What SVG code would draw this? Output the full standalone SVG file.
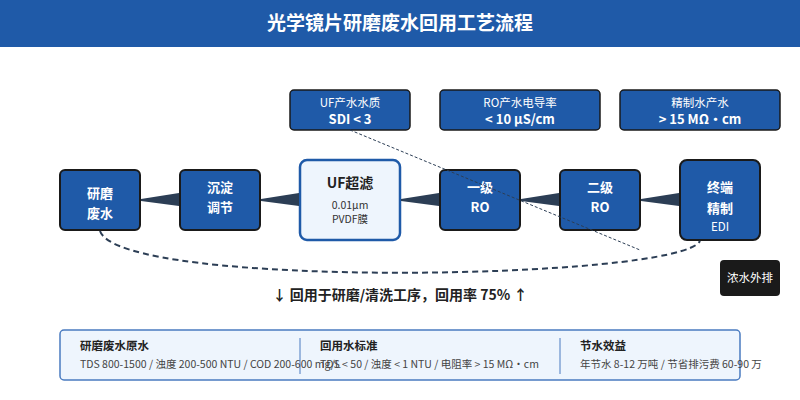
<svg xmlns="http://www.w3.org/2000/svg" width="800" height="400" viewBox="0 0 800 400">
<style>
text{font-family:"Noto Sans CJK SC","Noto Sans",sans-serif}
.n{fill:#1f5aa8;stroke:#1a1a1a;stroke-width:2}
.w{fill:#fff;font-size:13px;font-weight:bold;text-anchor:middle}
.s{fill:#fff;font-size:11.5px;text-anchor:middle}
.i{fill:#1f5aa8;stroke:#1a1a1a;stroke-width:1.5}
.e{fill:#2c3e55}
</style>
<rect x="0" y="0" width="800" height="47" fill="#1f5aa8"/>
<text x="400" y="30" font-size="19" font-weight="bold" fill="#fff" text-anchor="middle">光学镜片研磨废水回用工艺流程</text>
<g id="n1"><rect class="n" x="60" y="170" width="80" height="60" rx="5"/><text class="w" x="100" y="198">研磨</text><text class="w" x="100" y="218">废水</text></g>
<g id="n2"><rect class="n" x="180" y="170" width="80" height="60" rx="5"/><text class="w" x="220" y="192">沉淀</text><text class="w" x="220" y="212">调节</text></g>
<g id="n3"><rect x="300" y="160" width="100" height="80" rx="7" fill="#eef5fd" stroke="#1f5aa8" stroke-width="2.5"/><text x="350" y="188" font-size="14" font-weight="bold" fill="#222" text-anchor="middle">UF超滤</text><text x="350" y="209" font-size="10.5" fill="#333" text-anchor="middle">0.01μm</text><text x="350" y="223" font-size="10.5" fill="#333" text-anchor="middle">PVDF膜</text></g>
<g id="n4"><rect class="n" x="440" y="170" width="80" height="60" rx="5"/><text class="w" x="480" y="192">一级</text><text class="w" x="480" y="212">RO</text></g>
<g id="n5"><rect class="n" x="560" y="170" width="80" height="60" rx="5"/><text class="w" x="600" y="192">二级</text><text class="w" x="600" y="212">RO</text></g>
<g id="n6"><rect class="n" x="680" y="160" width="80" height="80" rx="7"/><text class="w" x="720" y="192">终端</text><text class="w" x="720" y="213">精制</text><text class="s" x="720" y="231">EDI</text></g>
<g id="i1"><rect class="i" x="290" y="90" width="120" height="40" rx="4"/><text class="s" x="350" y="107">UF产水水质</text><text class="w" x="350" y="124" font-size="12">SDI &lt; 3</text></g>
<g id="i2"><rect class="i" x="440" y="90" width="160" height="40" rx="4"/><text class="s" x="520" y="107">RO产水电导率</text><text class="w" x="520" y="124" font-size="12">&lt; 10 μS/cm</text></g>
<g id="i3"><rect class="i" x="620" y="90" width="160" height="40" rx="4"/><text class="s" x="700" y="107">精制水产水</text><text class="w" x="700" y="124" font-size="12">&gt; 15 MΩ・cm</text></g>
<g id="drain"><rect x="720" y="260" width="60" height="36" rx="4" fill="#1a1a1a"/><text class="s" x="750" y="282">浓水外排</text></g>
<g id="connectors">
<polygon class="e" points="141,199 179,193 179,206 141,201"/>
<polygon class="e" points="261,199 299,193 299,206 261,201"/>
<polygon class="e" points="401,199 439,193 439,206 401,201"/>
<polygon class="e" points="521,199 559,193 559,206 521,201"/>
<polygon class="e" points="641,199 679,193 679,206 641,201"/>
<path d="M100,231 C120,290 680,280 700,241" fill="none" stroke="#2c3e55" stroke-width="2" stroke-dasharray="6,4"/>
<line x1="350" y1="130" x2="640" y2="250" stroke="#2c3e55" stroke-width="1" stroke-dasharray="3,2"/>
</g>
<text x="400" y="300" font-size="14" font-weight="bold" fill="#222" text-anchor="middle">↓ 回用于研磨/清洗工序，回用率 75% ↑</text>
<g id="panel">
<rect x="60" y="330" width="680" height="50" rx="4" fill="#eef5fd" stroke="#4a7bc0" stroke-width="1.5"/>
<line x1="300" y1="338" x2="300" y2="374" stroke="#4a7bc0"/>
<line x1="560" y1="338" x2="560" y2="374" stroke="#4a7bc0"/>
<text x="80" y="350" font-size="11.5" font-weight="bold" fill="#222">研磨废水原水</text>
<text x="80" y="368" font-size="10.5" fill="#444">TDS 800-1500 / 浊度 200-500 NTU / COD 200-600 mg/L</text>
<text x="320" y="350" font-size="11.5" font-weight="bold" fill="#222">回用水标准</text>
<text x="320" y="368" font-size="10.5" fill="#444">TDS &lt; 50 / 浊度 &lt; 1 NTU / 电阻率 &gt; 15 MΩ・cm</text>
<text x="580" y="350" font-size="11.5" font-weight="bold" fill="#222">节水效益</text>
<text x="580" y="368" font-size="10.5" fill="#444">年节水 8-12 万吨 / 节省排污费 60-90 万</text>
</g>
</svg>
